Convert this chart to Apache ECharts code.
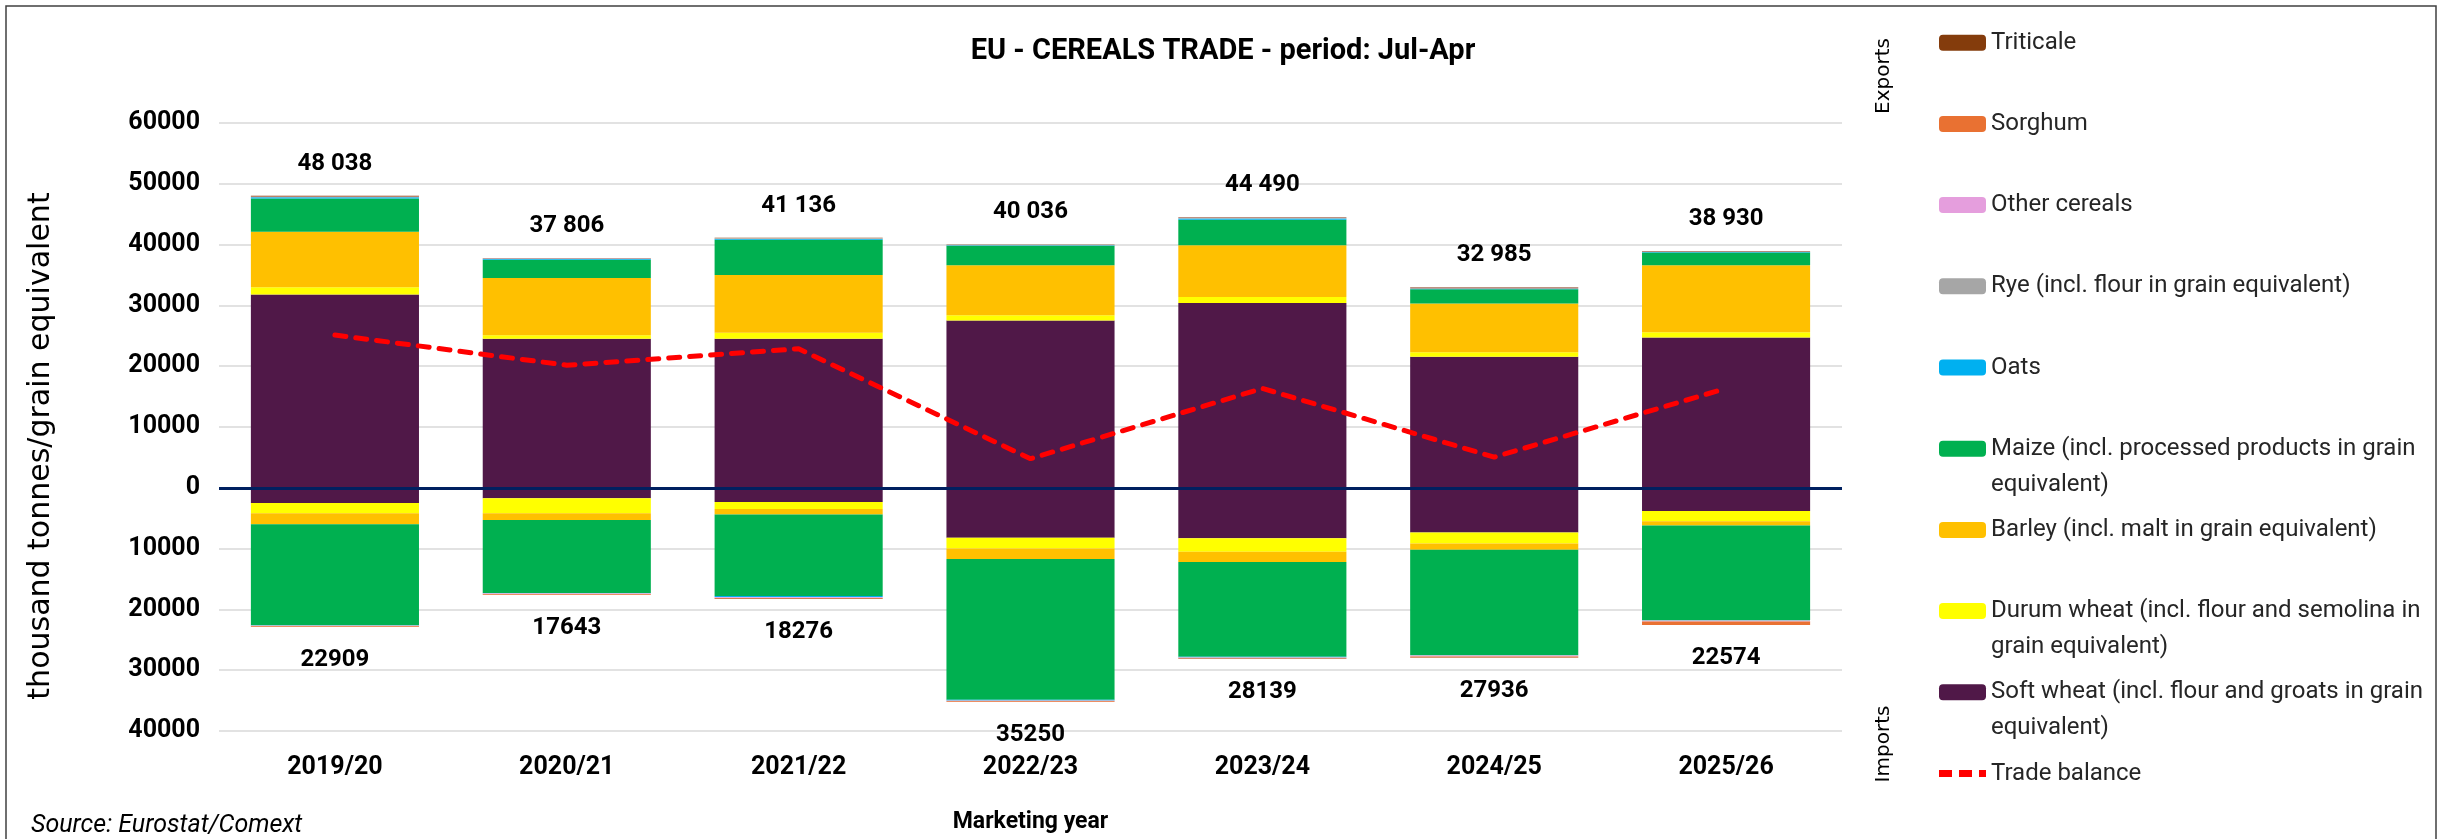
<!DOCTYPE html>
<html>
<head>
<meta charset="utf-8">
<title>EU - Cereals trade</title>
<script src="https://cdn.jsdelivr.net/npm/echarts@6/dist/echarts.min.js"></script>
<style>
  html, body { margin: 0; padding: 0; background: #fff; }
  #chart { width: 2446px; height: 839px; }
</style>
</head>
<body>
<div id="chart"></div>
<script>
// Marketing years (Jul-Apr period), thousand tonnes in grain equivalent
const categories = ['2019/20', '2020/21', '2021/22', '2022/23', '2023/24', '2024/25', '2025/26'];

// Exports by cereal
const softWheatExp = [31800, 24500, 24500, 27500, 30400, 21550, 24700];
const durumExp     = [1200, 600, 1000, 900, 1000, 750, 900];
const barleyExp    = [9100, 9400, 9500, 8200, 8500, 8000, 11000];
const maizeExp     = [5500, 3000, 5800, 3200, 4200, 2350, 2100];
const oatsExp      = [180, 150, 160, 110, 200, 60, 80];
const ryeExp       = [60, 60, 70, 50, 80, 150, 50];
const otherExp     = [40, 30, 30, 20, 40, 25, 20];
const sorghumExp   = [30, 16, 16, 6, 10, 0, 10];
const triticaleExp = [128, 50, 60, 50, 60, 100, 70];

// Imports by cereal (magnitudes)
const softWheatImp = [2500, 1700, 2350, 8200, 8300, 7350, 3800];
const durumImp     = [1700, 2500, 1150, 1800, 2200, 1800, 1700];
const barleyImp    = [1800, 1100, 900, 1700, 1700, 1050, 700];
const maizeImp     = [16600, 12000, 13400, 23150, 15600, 17300, 15600];
const oatsImp      = [40, 30, 150, 130, 90, 60, 30];
const ryeImp       = [60, 70, 60, 60, 70, 80, 40];
const otherImp     = [90, 100, 110, 80, 80, 120, 100];
const sorghumImp   = [110, 130, 140, 120, 90, 160, 590];
const triticaleImp = [9, 13, 16, 10, 9, 16, 14];

// Totals shown above / below the bars, and the trade balance
const exportTotals = [48038, 37806, 41136, 40036, 44490, 32985, 38930];
const importTotals = [22909, 17643, 18276, 35250, 28139, 27936, 22574];
const tradeBalance = [25129, 20163, 22860, 4786, 16351, 5049, 16356];

// Axis ticks
const yMin = -40000, yMax = 60000, yStep = 10000;

const NARROW = 'Roboto, "DejaVu Sans Condensed", sans-serif';
const WIDE = '"DejaVu Sans", Verdana, sans-serif';

// Cereals in stacking order (closest to zero first)
const cereals = [
  { name: 'Soft wheat (incl. flour and groats in grain equivalent)', color: '#501848', exp: softWheatExp, imp: softWheatImp },
  { name: 'Durum wheat (incl. flour and semolina in grain equivalent)', color: '#FFFF00', exp: durumExp, imp: durumImp },
  { name: 'Barley (incl. malt in grain equivalent)', color: '#FFC000', exp: barleyExp, imp: barleyImp },
  { name: 'Maize (incl. processed products in grain equivalent)', color: '#00B050', exp: maizeExp, imp: maizeImp },
  { name: 'Oats', color: '#00B0F0', exp: oatsExp, imp: oatsImp },
  { name: 'Rye (incl. flour in grain equivalent)', color: '#A6A6A6', exp: ryeExp, imp: ryeImp },
  { name: 'Other cereals', color: '#E59EDD', exp: otherExp, imp: otherImp },
  { name: 'Sorghum', color: '#E97132', exp: sorghumExp, imp: sorghumImp },
  { name: 'Triticale', color: '#843C0C', exp: triticaleExp, imp: triticaleImp }
];

// Legend wording for entries that wrap onto a second line; the leading
// blank line keeps the first line level with the colour swatch
const wrapped = {
  'Maize (incl. processed products in grain equivalent)': '\nMaize (incl. processed products in grain\nequivalent)',
  'Durum wheat (incl. flour and semolina in grain equivalent)': '\nDurum wheat (incl. flour and semolina in\ngrain equivalent)',
  'Soft wheat (incl. flour and groats in grain equivalent)': '\nSoft wheat (incl. flour and groats in grain\nequivalent)'
};

const fmtSpace = v => String(v).replace(/\B(?=(\d{3})+(?!\d))/g, ' ');

const labelFont = { fontFamily: NARROW, fontWeight: 'bold', fontSize: 24, lineHeight: 26, color: '#000' };

const series = [];
cereals.forEach((c, idx) => {
  const last = idx === cereals.length - 1;
  series.push({
    name: c.name, type: 'bar', stack: 'trade', barCategoryGap: '27.5%',
    itemStyle: { color: c.color }, data: c.exp,
    label: last ? Object.assign({
      show: true, position: 'top', distance: 19,
      formatter: p => fmtSpace(exportTotals[p.dataIndex])
    }, labelFont) : { show: false }
  });
  series.push({
    name: c.name, type: 'bar', stack: 'trade', barCategoryGap: '27.5%',
    itemStyle: { color: c.color }, data: c.imp.map(v => -v),
    label: last ? Object.assign({
      show: true, position: 'bottom', distance: 20,
      formatter: p => String(importTotals[p.dataIndex])
    }, labelFont) : { show: false }
  });
});

series.push({
  name: 'Trade balance', type: 'line', data: tradeBalance, symbol: 'none', z: 5,
  lineStyle: { color: '#FF0000', width: 5, type: [11, 10], cap: 'round' },
  itemStyle: { color: '#FF0000' },
  markLine: {
    silent: true, symbol: 'none', label: { show: false },
    lineStyle: { color: '#002060', width: 3, type: 'solid' },
    data: [{ yAxis: 0 }]
  }
});

// One legend block per entry, spaced evenly down the right side
const legendOrder = [
  'Triticale', 'Sorghum', 'Other cereals', 'Rye (incl. flour in grain equivalent)', 'Oats',
  'Maize (incl. processed products in grain equivalent)', 'Barley (incl. malt in grain equivalent)',
  'Durum wheat (incl. flour and semolina in grain equivalent)',
  'Soft wheat (incl. flour and groats in grain equivalent)', 'Trade balance'
];
// Dashed-line swatch for the trade balance entry
const dashIcon = 'path://M0,0L13,0L13,7L0,7Z M20,0L33,0L33,7L20,7Z M40,0L47,0L47,7L40,7Z';
const legendFirstMid = 42.7, legendStep = 81.2, lineH = 36;
const legends = legendOrder.map((name, i) => {
  const twoLines = !!wrapped[name];
  const isLine = name === 'Trade balance';
  const iconH = isLine ? 7 : 16;
  const boxH = twoLines ? 3 * lineH : lineH;
  const mid = legendFirstMid + i * legendStep;
  const leg = {
    data: isLine ? [{ name: name, icon: dashIcon, itemStyle: { color: '#FF0000' } }] : [name],
    orient: 'vertical', left: 1939,
    top: mid - boxH / 2,
    padding: 0, itemWidth: 47, itemHeight: iconH, itemGap: 0,
    formatter: n => wrapped[n] || n,
    textStyle: { fontFamily: NARROW, fontSize: 24, lineHeight: lineH, color: '#262626' }
  };
  return leg;
});

const chart = echarts.init(document.getElementById('chart'), null, { renderer: 'canvas' });
chart.setOption({
  animation: false,
  backgroundColor: '#fff',
  title: {
    text: 'EU - CEREALS TRADE - period: Jul-Apr',
    left: 1218, top: 29, textAlign: 'center',
    textStyle: { fontFamily: NARROW, fontWeight: 'bold', fontSize: 29, lineHeight: 36, color: '#000' }
  },
  legend: legends,
  grid: { left: 219, right: 604, top: 123, bottom: 108, containLabel: false },
  xAxis: {
    type: 'category', data: categories,
    name: 'Marketing year', nameLocation: 'middle', nameGap: 80,
    nameTextStyle: { fontFamily: NARROW, fontWeight: 'bold', fontSize: 23, color: '#000' },
    axisLine: { show: false }, axisTick: { show: false },
    axisLabel: { fontFamily: NARROW, fontWeight: 'bold', fontSize: 25, lineHeight: 28, color: '#000', margin: 23 }
  },
  yAxis: {
    type: 'value', min: yMin, max: yMax, interval: yStep,
    axisLine: { show: false }, axisTick: { show: false },
    splitLine: { lineStyle: { color: '#D9D9D9', width: 1.5 } },
    axisLabel: {
      fontFamily: NARROW, fontWeight: 'bold', fontSize: 25, color: '#000', margin: 19,
      formatter: v => String(Math.abs(v))
    }
  },
  graphic: [
    { type: 'rect', shape: { x: 6, y: 6, width: 2430, height: 860 }, silent: true, z: -10,
      style: { fill: 'none', stroke: '#404040', lineWidth: 1.5 } },
    { type: 'text', x: 41, y: 446, rotation: Math.PI / 2, silent: true,
      style: { text: 'thousand tonnes/grain equivalent', fontFamily: WIDE, fontSize: 30,
               fill: '#000', align: 'center', verticalAlign: 'middle' } },
    { type: 'text', x: 1884, y: 76, rotation: Math.PI / 2, silent: true,
      style: { text: 'Exports', fontFamily: WIDE, fontSize: 20, fill: '#000', align: 'center', verticalAlign: 'middle' } },
    { type: 'text', x: 1884, y: 744, rotation: Math.PI / 2, silent: true,
      style: { text: 'Imports', fontFamily: WIDE, fontSize: 20, fill: '#000', align: 'center', verticalAlign: 'middle' } },
    { type: 'text', x: 31, y: 826, silent: true,
      style: { text: 'Source: Eurostat/Comext', fontFamily: NARROW, fontStyle: 'italic', fontSize: 25,
               fill: '#000', align: 'left', verticalAlign: 'middle' } }
  ],
  series: series
});
</script>
</body>
</html>
